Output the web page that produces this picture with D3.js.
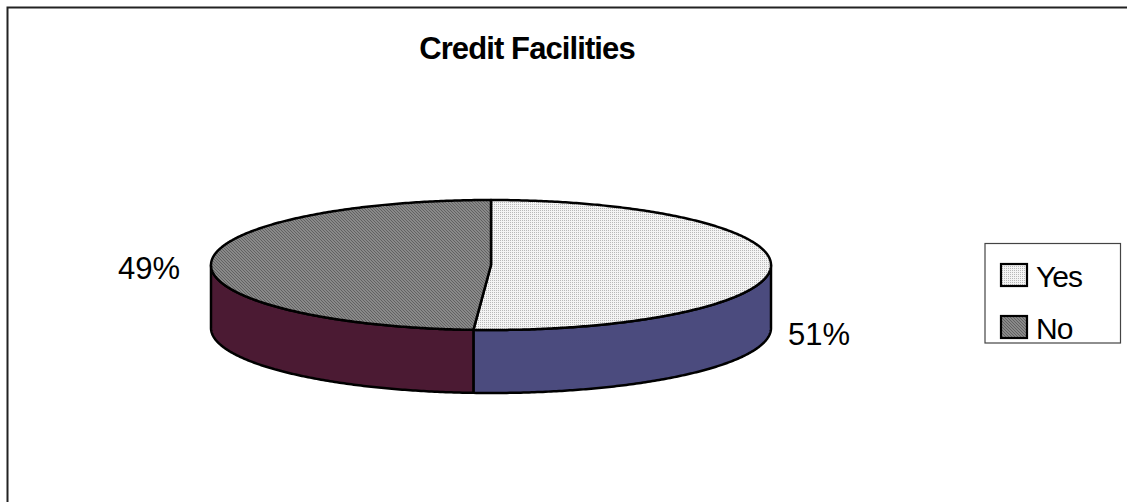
<!DOCTYPE html>
<html>
<head>
<meta charset="utf-8">
<script src="https://cdn.jsdelivr.net/npm/d3@7"></script>
<style>
  html, body { margin: 0; padding: 0; background: #fff; }
  svg { display: block; }
  text { font-family: Arial, "Liberation Sans", sans-serif; }
</style>
</head>
<body>
<svg id="chart" width="1127" height="502"></svg>
<script>
// Chart data
const title = "Credit Facilities";
const categories = ["Yes", "No"];
const values = [51, 49];
const topFills = ["url(#dots)", "url(#hatch)"];
const sideFills = ["#4b4b7e", "#4b1a33"];

const W = 1127, H = 502;
const svg = d3.select("#chart");

// Fill patterns for the pie top faces
const defs = svg.append("defs");
const dots = defs.append("pattern").attr("id", "dots")
  .attr("patternUnits", "userSpaceOnUse").attr("width", 2).attr("height", 2);
dots.append("rect").attr("width", 2).attr("height", 2).attr("fill", "#f4f4f4");
dots.append("rect").attr("width", 1).attr("height", 1).attr("fill", "#b8b8b8");

const hatch = defs.append("pattern").attr("id", "hatch")
  .attr("patternUnits", "userSpaceOnUse").attr("width", 3).attr("height", 3);
hatch.append("rect").attr("width", 3).attr("height", 3).attr("fill", "#9a9a9a");
hatch.append("path").attr("d", "M0,0 L3,3 M-1,2 L1,4 M2,-1 L4,1")
  .attr("stroke", "#5e5e5e").attr("stroke-width", 1.1);

// Outer chart frame
svg.append("path")
  .attr("d", `M7.5,${H + 2} L7.5,7.5 L${W + 2},7.5`)
  .attr("fill", "none").attr("stroke", "#222").attr("stroke-width", 2);

// Title
svg.append("text")
  .attr("x", 527).attr("y", 59)
  .attr("text-anchor", "middle")
  .attr("font-size", 31).attr("font-weight", "bold")
  .attr("letter-spacing", -0.9)
  .text(title);

// 3D pie geometry
const cx = 491, cy = 265, rx = 280, ry = 65, depth = 63;
const pie = d3.pie().sort(null).startAngle(0).endAngle(2 * Math.PI);
const arcs = pie(values);

// angle measured clockwise from 12 o'clock
const px = a => cx + rx * Math.sin(a);
const py = a => cy - ry * Math.cos(a);

function arcPts(a0, a1, dy) {
  const n = Math.max(2, Math.ceil(Math.abs(a1 - a0) / 0.01));
  return d3.range(n + 1).map(i => {
    const a = a0 + (a1 - a0) * i / n;
    return [px(a), py(a) + dy];
  });
}
const line = d3.line();

// Side walls: only the front half (90°..270°) is visible
const sideG = svg.append("g");
arcs.forEach((d, i) => {
  const a0 = Math.max(d.startAngle, Math.PI / 2);
  const a1 = Math.min(d.endAngle, 3 * Math.PI / 2);
  if (a1 <= a0) return;
  const pts = arcPts(a0, a1, 0).concat(arcPts(a1, a0, depth));
  sideG.append("path")
    .attr("d", line(pts) + "Z")
    .attr("fill", sideFills[i])
    .attr("stroke", "#000").attr("stroke-width", 2.5)
    .attr("stroke-linejoin", "round");
});

// Top faces
const topG = svg.append("g");
arcs.forEach((d, i) => {
  const pts = [[cx, cy]].concat(arcPts(d.startAngle, d.endAngle, 0));
  topG.append("path")
    .attr("d", line(pts) + "Z")
    .attr("fill", topFills[i])
    .attr("stroke", "#000").attr("stroke-width", 2.5)
    .attr("stroke-linejoin", "round");
});

// Percentage labels
const fmt = v => Math.round(v / d3.sum(values) * 100) + "%";
svg.append("text")
  .attr("x", 788).attr("y", 345)
  .attr("font-size", 31).attr("text-anchor", "start")
  .text(fmt(values[0]));
svg.append("text")
  .attr("x", 180).attr("y", 279)
  .attr("font-size", 31).attr("text-anchor", "end")
  .text(fmt(values[1]));

// Legend
const lg = svg.append("g");
lg.append("rect")
  .attr("x", 985).attr("y", 243.5).attr("width", 135.5).attr("height", 99.5)
  .attr("fill", "#fff").attr("stroke", "#444").attr("stroke-width", 1.2);
categories.forEach((c, i) => {
  const y = 264 + i * 52;
  lg.append("rect")
    .attr("x", 1001).attr("y", y).attr("width", 26).attr("height", 22)
    .attr("fill", topFills[i]).attr("stroke", "#000").attr("stroke-width", 2.2);
  lg.append("text")
    .attr("x", 1036).attr("y", y + 23)
    .attr("font-size", 30).attr("letter-spacing", -1)
    .text(c);
});
</script>
</body>
</html>
